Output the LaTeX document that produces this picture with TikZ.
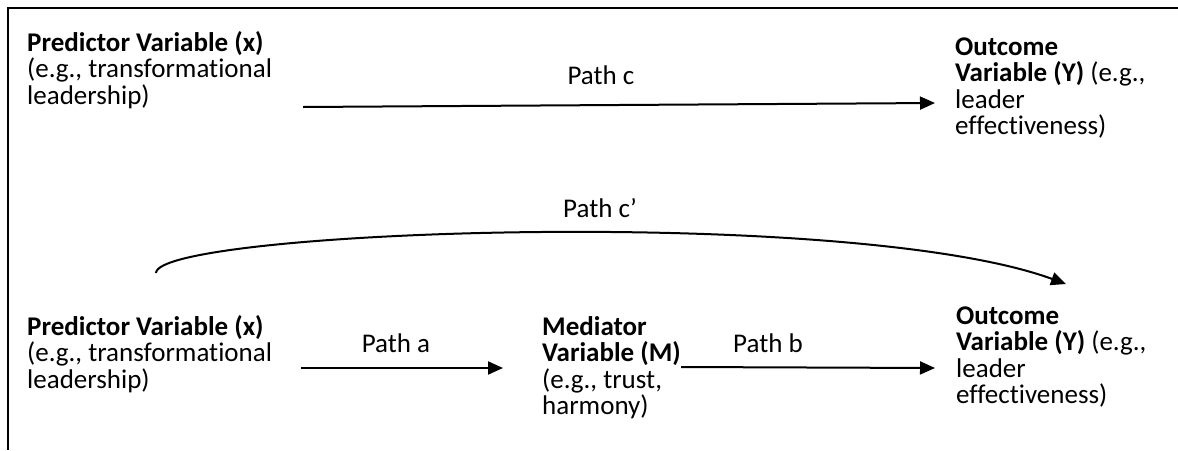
\documentclass[tikz,border=0pt]{standalone}
\usepackage{fontspec}
\setmainfont{Carlito}[Ligatures={NoCommon}]
\usetikzlibrary{arrows.meta}
\newcommand{\toprule}{\rule{0pt}{24pt}}
\tikzset{
  txt/.style={anchor=north west, align=left, inner sep=0pt, font=\fontsize{27}{26.5}\selectfont},
  lbl/.style={anchor=base, inner sep=0pt, font=\fontsize{27}{26.5}\selectfont},
  arr/.style={line width=2pt, -{Triangle[length=15pt,width=13pt]}},
  frame/.style={line width=2pt}
}
\begin{document}
\begin{tikzpicture}[x=1pt,y=-1pt]
\useasboundingbox (0,0) rectangle (1178,450);
% frame
\coordinate (fbl) at (8,450);
\coordinate (ftl) at (8,8);
\coordinate (ftr) at (1178,8);
\draw[frame] (fbl) -- (ftl);
\draw[frame] (7,8) -- (ftr);
% top row (y = first baseline - 24)
\node[txt] (px1) at (27,27) {\toprule\textbf{Predictor Variable (x)}\\(e.g., transformational\\leadership)};
\node[txt] (oy1) at (955,31) {\toprule\textbf{Outcome}\\\textbf{Variable (Y)} (e.g.,\\leader\\effectiveness)};
\coordinate (cs) at (303,107);
\coordinate (ce) at (935,103);
\draw[arr] (cs) -- (ce);
\node[lbl] (pc) at (601,84) {Path c};
% bottom row
\node[txt] (px2) at (27,311) {\toprule\textbf{Predictor Variable (x)}\\(e.g., transformational\\leadership)};
\node[txt] (mm) at (542,311) {\toprule\textbf{Mediator}\\\textbf{Variable (M)}\\(e.g., trust,\\harmony)};
\node[txt] (oy2) at (956,300) {\toprule\textbf{Outcome}\\\textbf{Variable (Y)} (e.g.,\\leader\\effectiveness)};
\coordinate (as) at (301,368);
\coordinate (ae) at (503,368);
\draw[arr] (as) -- (ae);
\node[lbl] (pa) at (396,352) {Path a};
\coordinate (bs) at (681,367);
\coordinate (be) at (935,368);
\draw[arr] (bs) -- (be);
\node[lbl] (pb) at (768,352) {Path b};
% curved path c'
\coordinate (c2s) at (156,273);
\coordinate (c2e) at (1066,284);
\draw[arr] (c2s) .. controls (157,230) and (850,205) .. (c2e);
\node[lbl] (pc2) at (600,217) {Path c’};
\end{tikzpicture}
\end{document}
